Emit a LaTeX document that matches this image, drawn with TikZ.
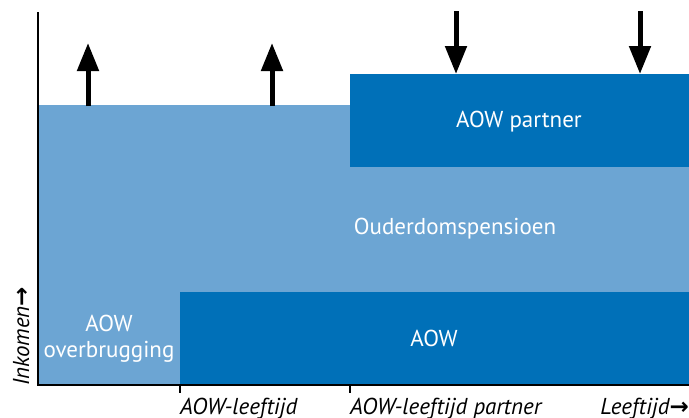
\documentclass[tikz,border=0pt]{standalone}
\usepackage{fontspec}
\setmainfont{PT Sans}
\newfontfamily\arrowfont{DejaVu Sans}
\usetikzlibrary{arrows.meta}
\definecolor{lightblue}{HTML}{6CA5D3}
\definecolor{darkblue}{HTML}{0070B8}
\tikzset{
  lbl/.style={text=white, font=\fontsize{23}{26}\selectfont, inner sep=0pt, align=center},
  axlbl/.style={font=\fontsize{23}{26}\selectfont\itshape, inner sep=0pt},
  bigarrow/.style={line width=5pt, -{Triangle[width=21pt,length=28pt]}},
  axisline/.style={line width=2pt},
}
\begin{document}
\begin{tikzpicture}[x=1pt,y=-1pt]
\useasboundingbox (0,0) rectangle (689,418);
% bands
\fill[lightblue] (39,105) rectangle (689,384);
\fill[darkblue] (350,74) rectangle (689,167);
\fill[darkblue] (180,292) rectangle (689,384);
% labels
\node[lbl] (partner) at (519,122) {AOW partner};
\node[lbl] (pensioen) at (455,229) {Ouderdomspensioen};
\node[lbl] (aow) at (434,338) {AOW};
\node[lbl] (overbrugging) at (109,339) {AOW\\overbrugging};
% axes
\coordinate (origin) at (38,385);
\coordinate (ytop) at (38,12);
\coordinate (xend) at (689,385);
\draw[axisline] (ytop) -- (origin) -- (xend);
\coordinate (t1) at (180,385);
\coordinate (t1b) at (180,393);
\coordinate (t2) at (350,385);
\coordinate (t2b) at (350,393);
\draw[axisline] (t1) -- (t1b);
\draw[axisline] (t2) -- (t2b);
% axis labels
\node[axlbl, anchor=base west] (l1) at (180,414) {AOW-leeftijd};
\node[axlbl, anchor=base west] (l2) at (350,414) {AOW-leeftijd partner};
\node[axlbl, anchor=base east] (l3) at (689,414) {Leeftijd{\arrowfont\upshape\bfseries →}};
\node[axlbl, anchor=base west, rotate=90] (l4) at (29,386) {Inkomen{\arrowfont\upshape\bfseries →}};
% arrows
\coordinate (u1a) at (88,106);
\coordinate (u1b) at (88,43);
\coordinate (u2a) at (272,106);
\coordinate (u2b) at (272,43);
\coordinate (d1a) at (456,11);
\coordinate (d1b) at (456,74);
\coordinate (d2a) at (640,11);
\coordinate (d2b) at (640,74);
\draw[bigarrow] (u1a) -- (u1b);
\draw[bigarrow] (u2a) -- (u2b);
\draw[bigarrow] (d1a) -- (d1b);
\draw[bigarrow] (d2a) -- (d2b);
\end{tikzpicture}
\end{document}
